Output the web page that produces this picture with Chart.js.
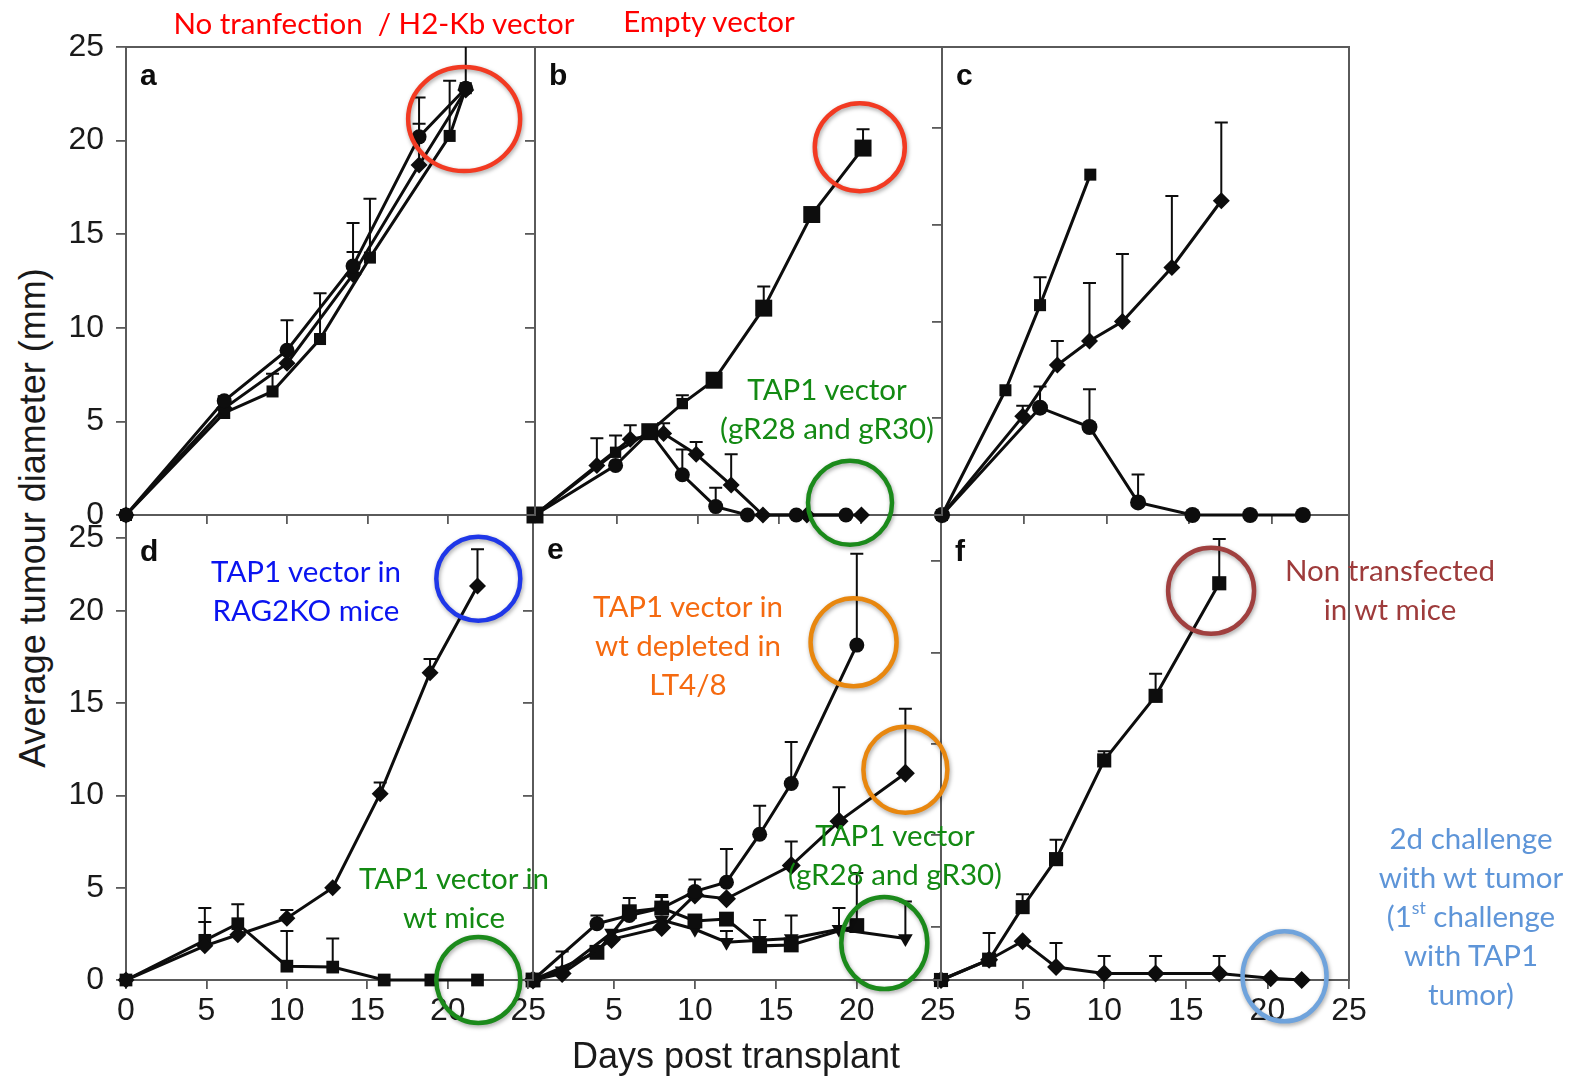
<!DOCTYPE html>
<html>
<head>
<meta charset="utf-8">
<script src="https://cdn.jsdelivr.net/npm/chart.js@4.4.0/dist/chart.umd.min.js"></script>
<style>
  body { margin: 0; background: #fff; width: 1582px; height: 1079px; overflow: hidden; position: relative; }
  canvas { position: absolute; }
  .note { position: absolute; font-family: Lato, "Noto Sans", sans-serif; font-size: 29.5px; line-height: 39px;
          text-align: center; white-space: pre; transform: translateX(-50%); z-index: 20; }
  .note sup { font-size: 0.6em; line-height: 0; vertical-align: 0.75em; }
  .title { position: absolute; font-family: "Liberation Sans", Arial, sans-serif; font-size: 36px; color: #1a1a1a;
           white-space: nowrap; z-index: 20; }
</style>
</head>
<body>

<div class="title" style="left:33px; top:518px; transform: translate(-50%,-50%) rotate(-90deg);">Average tumour diameter (mm)</div>
<div class="title" style="left:736px; top:1056px; transform: translate(-50%,-50%);">Days post transplant</div>

<div class="note" style="left:374px; top:3px; color:#ff0000;">No tranfection  / H2-Kb vector</div>
<div class="note" style="left:709px; top:1px; color:#ff0000;">Empty vector</div>
<div class="note" style="left:827px; top:369px; color:#138a13;">TAP1 vector
(gR28 and gR30)</div>
<div class="note" style="left:306px; top:551px; color:#0a14f0;">TAP1 vector in
RAG2KO mice</div>
<div class="note" style="left:454px; top:858px; color:#138a13;">TAP1 vector in
wt mice</div>
<div class="note" style="left:688px; top:586px; color:#f56a10;">TAP1 vector in
wt depleted in
LT4/8</div>
<div class="note" style="left:895px; top:815px; color:#138a13;">TAP1 vector
(gR28 and gR30)</div>
<div class="note" style="left:1390px; top:550px; color:#9e3b3b;">Non transfected
in wt mice</div>
<div class="note" style="left:1471px; top:818px; color:#5e95d8;">2d challenge
with wt tumor
(1<sup>st</sup> challenge
with TAP1
tumor)</div>

<script>
// ---- panel a: no transfection / H2-Kb vector ----
const aCircleDays = [0, 6.1, 10.0, 14.1, 18.2, 21.1];
const aCircle     = [0, 6.1, 8.8, 13.3, 20.2, 22.8];
const aCircleErr  = [null, 6.35, 10.4, 15.6, 22.3, 26];
const aDiamondDays = [0, 6.1, 10.0, 14.1, 18.2, 21.1];
const aDiamond     = [0, 5.7, 8.1, 12.85, 18.7, 22.7];
const aDiamondErr  = [null, null, null, 14.05, 20.9, null];
const aSquareDays = [0, 6.1, 9.1, 12.05, 15.15, 20.1, 21.1];
const aSquare     = [0, 5.45, 6.6, 9.4, 13.75, 20.25, 22.8];
const aSquareErr  = [null, null, 7.55, 11.85, 16.9, 23.2, null];

// ---- panel b: empty vector vs TAP1 vector ----
const bSquareDays = [0, 4.95, 7.05, 9.05, 11.0, 14.05, 17.0, 20.15];
const bSquare     = [0, 3.35, 4.45, 5.95, 7.2, 11.05, 16.05, 19.6];
const bSquareErr  = [null, 4.25, null, 6.4, null, 12.2, null, 20.6];
const bCircleDays = [0, 4.95, 7.05, 9.05, 11.1, 13.05, 16.05, 19.1];
const bCircle     = [0, 2.65, 4.45, 2.15, 0.45, 0, 0, 0];
const bCircleErr  = [null, null, null, 3.5, 1.45, null, null, null];
const bDiamondDays = [0, 3.8, 5.85, 7.9, 9.9, 12.05, 14.0, 16.7, 20.05];
const bDiamond     = [0, 2.65, 4.05, 4.35, 3.25, 1.6, 0, 0, 0];
const bDiamondErr  = [null, 4.1, 4.8, 4.9, 3.9, 3.25, null, null, null];

// ---- panel c ----
const cSquareDays = [0, 3.85, 5.95, 9.0];
const cSquare     = [0, 6.45, 10.85, 17.6];
const cSquareErr  = [null, null, 12.3, null];
const cDiamondDays = [0, 4.9, 7.0, 8.95, 10.95, 13.95, 16.95];
const cDiamond     = [0, 5.1, 7.75, 9.0, 10.0, 12.8, 16.25];
const cDiamondErr  = [null, 5.65, 9.0, 12.0, 13.5, 16.5, 20.3];
const cCircleDays = [0, 5.95, 8.95, 11.9, 15.2, 18.7, 21.9];
const cCircle     = [0, 5.55, 4.55, 0.65, 0, 0, 0];
const cCircleErr  = [null, 6.65, 6.5, 2.1, null, null, null];

// ---- panel d: RAG2KO vs wt mice ----
const dDiamondDays = [0, 4.9, 6.95, 10.0, 12.85, 15.8, 18.9, 21.85];
const dDiamond     = [0, 1.85, 2.45, 3.35, 5.0, 10.1, 16.65, 21.35];
const dDiamondErr  = [null, 3.9, null, 3.8, null, 10.7, 17.4, 23.35];
const dSquareDays = [0, 4.9, 6.95, 10.0, 12.85, 16.05, 18.95, 21.85];
const dSquare     = [0, 2.15, 3.05, 0.75, 0.7, 0, 0, 0];
const dSquareErr  = [null, 3.15, 4.1, 2.65, 2.25, null, null, null];

// ---- panel e: depleted wt vs TAP1 vectors ----
const eCircleDays = [0, 3.95, 5.95, 7.95, 10.0, 11.95, 14.0, 15.95, 20.0];
const eCircle     = [0, 3.05, 3.5, 3.9, 4.8, 5.3, 7.9, 10.65, 18.15];
const eCircleErr  = [null, 3.5, null, 4.6, 5.45, 7.1, 9.45, 12.9, 23.1];
const eDiamondDays = [0, 1.8, 4.85, 7.95, 10.0, 11.95, 15.95, 18.9, 23.0];
const eDiamond     = [0, 0.35, 2.2, 2.85, 4.6, 4.4, 6.2, 8.6, 11.2];
const eDiamondErr  = [null, null, null, null, null, null, 7.5, 10.45, 14.7];
const eSquareDays = [0, 3.95, 5.95, 7.95, 10.0, 11.95, 14.0, 15.95, 20.0];
const eSquare     = [0, 1.5, 3.7, 3.9, 3.2, 3.3, 1.85, 1.9, 2.95];
const eSquareErr  = [null, null, 4.45, 4.5, null, null, 3.25, 3.5, 5.8];
const eTriDays = [0, 1.8, 4.85, 7.95, 10.0, 11.95, 14.0, 15.95, 18.9, 23.0];
const eTri     = [0, 0.5, 2.55, 3.25, 2.75, 2.05, 2.15, 2.25, 2.75, 2.25];
const eTriErr  = [null, 1.55, null, null, null, 2.65, null, null, 3.9, 4.25];

// ---- panel f: non transfected vs second challenge ----
const fSquareDays = [0, 2.95, 5.0, 7.05, 10.0, 13.15, 17.05];
const fSquare     = [0, 1.1, 3.95, 6.55, 11.9, 15.4, 21.5];
const fSquareErr  = [null, 2.55, 4.65, 7.6, 12.4, 16.6, 23.9];
const fDiamondDays = [0, 2.95, 5.0, 7.05, 10.0, 13.15, 17.05, 20.2, 22.1];
const fDiamond     = [0, 1.1, 2.1, 0.7, 0.35, 0.35, 0.35, 0.1, 0.0];
const fDiamondErr  = [null, null, null, 2.0, 1.3, 1.3, 1.3, null, null];

// ---- tick values / labels ----
const yTicksTop = [0, 5, 10, 15, 20, 25];
const yTickLabelsTop = ['0', '5', '10', '15', '20', '25'];
const yTicksD = [0, 5, 10, 15, 20, 23.95];
const yTickLabelsD = ['0', '5', '10', '15', '20', '25'];
const yTicksF = [2.9, 7.85, 12.8, 17.75, 22.7];
const xTicksTop = [5, 10, 15, 20];
const xTicksD = [0, 5, 10, 15, 20, 25];
const xTicksEF = [5, 10, 15, 20, 25];

const M = 70;            // room around each plot area inside its canvas
const INK = '#0d0d0d';
const AXIS = '#5a5a5a';
const RED = '#f23a22', GREEN = '#1b8a1b', BLUE = '#1f37e8', ORANGE = '#e8870f', BROWN = '#a0403f', SKY = '#6fa3dc';

function series(days, vals, err, style, radius, rotation) {
  return {
    data: days.map((d, i) => ({ x: d, y: vals[i] })),
    errTop: err,
    borderColor: INK, borderWidth: 3, backgroundColor: INK,
    pointBackgroundColor: INK, pointBorderWidth: 0,
    pointStyle: style, pointRadius: radius, pointRotation: rotation || 0,
    tension: 0, clip: false
  };
}

// frame, error bars, circled groups and the panel letter
const panelDecor = {
  id: 'panelDecor',
  beforeDatasetsDraw(chart, args, opts) {
    const { ctx, chartArea: a, scales: { x, y } } = chart;
    ctx.save();
    ctx.strokeStyle = AXIS; ctx.lineWidth = 2;
    ctx.strokeRect(a.left, a.top, a.width, a.height);
    // upward error bars
    ctx.beginPath(); ctx.rect(a.left - 10, a.top, a.width + 20, a.height + 10); ctx.clip();
    ctx.strokeStyle = INK; ctx.lineWidth = 2;
    chart.data.datasets.forEach(ds => {
      (ds.errTop || []).forEach((e, i) => {
        if (e == null) return;
        const px = x.getPixelForValue(ds.data[i].x);
        const y0 = y.getPixelForValue(ds.data[i].y);
        const y1 = y.getPixelForValue(e);
        ctx.beginPath();
        ctx.moveTo(px, y0); ctx.lineTo(px, y1);
        ctx.moveTo(px - 6.5, y1); ctx.lineTo(px + 6.5, y1);
        ctx.stroke();
      });
    });
    ctx.restore();
  },
  afterDatasetsDraw(chart, args, opts) {
    const { ctx, chartArea: a, scales: { x, y } } = chart;
    ctx.save();
    ctx.fillStyle = INK;
    ctx.font = 'bold 30px "Liberation Sans", Arial, sans-serif';
    ctx.textBaseline = 'alphabetic';
    ctx.fillText(opts.letter, a.left + 14, a.top + opts.letterDrop);
    (opts.rings || []).forEach(r => {
      ctx.save();
      ctx.shadowColor = 'rgba(0,0,0,0.35)'; ctx.shadowBlur = 4; ctx.shadowOffsetX = 1; ctx.shadowOffsetY = 2;
      ctx.strokeStyle = r.color; ctx.lineWidth = 4.5;
      ctx.beginPath();
      ctx.ellipse(x.getPixelForValue(r.x), y.getPixelForValue(r.y), r.rx, r.ry, 0, 0, Math.PI * 2);
      ctx.stroke();
      ctx.restore();
    });
    ctx.restore();
  }
};

const panels = [
  { letter: 'a', rect: [126, 47, 535, 515], xMax: 25.4, yMax: 25, z: 6, drop: 38,
    xTicks: xTicksTop, xLabels: false, yTicks: yTicksTop, yLabels: yTickLabelsTop,
    sets: [series(aCircleDays, aCircle, aCircleErr, 'circle', 7.5),
           series(aDiamondDays, aDiamond, aDiamondErr, 'rectRot', 8.5),
           series(aSquareDays, aSquare, aSquareErr, 'rect', 8.5)],
    rings: [{ x: 21.0, y: 21.15, rx: 56, ry: 52, color: RED }] },
  { letter: 'b', rect: [535, 47, 942, 515], xMax: 25.0, yMax: 25, z: 5, drop: 38,
    xTicks: xTicksTop, xLabels: false, yTicks: yTicksTop, yLabels: false,
    sets: [Object.assign(series(bSquareDays, bSquare, bSquareErr, 'rect', 12), { pointRadius: [12, 8, 12, 8, 12, 12, 12, 12] }),
           series(bCircleDays, bCircle, bCircleErr, 'circle', 7.5),
           series(bDiamondDays, bDiamond, bDiamondErr, 'rectRot', 8.5)],
    rings: [{ x: 19.95, y: 19.65, rx: 45, ry: 44, color: RED },
            { x: 19.35, y: 0.65, rx: 42, ry: 42, color: GREEN }] },
  { letter: 'c', rect: [942, 47, 1349, 515], xMax: 24.7, yMax: 24.2, z: 4, drop: 38,
    xTicks: xTicksTop, xLabels: false, yTicks: [5, 10, 15, 20], yLabels: false,
    sets: [series(cSquareDays, cSquare, cSquareErr, 'rect', 8.5),
           series(cDiamondDays, cDiamond, cDiamondErr, 'rectRot', 8.5),
           series(cCircleDays, cCircle, cCircleErr, 'circle', 8)],
    rings: [] },
  { letter: 'd', rect: [126, 515, 533, 980], xMax: 25.3, yMax: 25.2, z: 3, drop: 46,
    xTicks: xTicksD, xLabels: true, yTicks: yTicksD, yLabels: yTickLabelsD,
    sets: [series(dDiamondDays, dDiamond, dDiamondErr, 'rectRot', 8.5),
           series(dSquareDays, dSquare, dSquareErr, 'rect', 9)],
    rings: [{ x: 21.9, y: 21.75, rx: 42, ry: 42, color: BLUE },
            { x: 21.9, y: 0, rx: 42, ry: 43, color: GREEN }] },
  { letter: 'e', rect: [533, 515, 941, 980], xMax: 25.2, yMax: 25.2, z: 2, drop: 44,
    xTicks: xTicksEF, xLabels: true, yTicks: [5, 10, 15, 20], yLabels: false,
    sets: [series(eCircleDays, eCircle, eCircleErr, 'circle', 7.5),
           series(eDiamondDays, eDiamond, eDiamondErr, 'rectRot', 9.5),
           series(eSquareDays, eSquare, eSquareErr, 'rect', 10.5),
           series(eTriDays, eTri, eTriErr, 'triangle', 8.5, 180)],
    rings: [{ x: 19.8, y: 18.3, rx: 43, ry: 44, color: ORANGE },
            { x: 23.0, y: 11.4, rx: 42, ry: 43, color: ORANGE },
            { x: 21.7, y: 2.0, rx: 43, ry: 46, color: GREEN }] },
  { letter: 'f', rect: [941, 515, 1349, 980], xMax: 25.0, yMax: 25.2, z: 1, drop: 46,
    xTicks: xTicksEF, xLabels: true, yTicks: yTicksF, yLabels: false,
    sets: [series(fSquareDays, fSquare, fSquareErr, 'rect', 10),
           series(fDiamondDays, fDiamond, fDiamondErr, 'rectRot', 9)],
    rings: [{ x: 16.55, y: 21.1, rx: 43, ry: 43, color: BROWN },
            { x: 21.05, y: 0.2, rx: 42, ry: 45, color: SKY }] }
];

const tickFont = { family: '"Liberation Sans", Arial, sans-serif', size: 32 };

panels.forEach(p => {
  const [l, t, r, b] = p.rect;
  const w = r - l + 2 * M, h = b - t + 2 * M;
  const canvas = document.createElement('canvas');
  canvas.width = w; canvas.height = h;
  canvas.style.left = (l - M) + 'px';
  canvas.style.top = (t - M) + 'px';
  canvas.style.width = w + 'px';
  canvas.style.height = h + 'px';
  canvas.style.zIndex = p.z;
  document.body.appendChild(canvas);

  new Chart(canvas.getContext('2d'), {
    type: 'line',
    data: { datasets: p.sets },
    options: {
      responsive: false,
      animation: false,
      devicePixelRatio: 1,
      layout: { padding: { top: M, right: M, left: 0, bottom: 0 } },
      plugins: {
        legend: { display: false },
        tooltip: { enabled: false },
        panelDecor: { letter: p.letter, letterDrop: p.drop, rings: p.rings }
      },
      scales: {
        x: {
          type: 'linear', min: 0, max: p.xMax,
          afterBuildTicks: s => { s.ticks = p.xTicks.map(v => ({ value: v })); },
          afterFit: s => { s.height = M; s.paddingLeft = 0; s.paddingRight = 0; },
          grid: { drawOnChartArea: false, tickLength: 9, color: AXIS, lineWidth: 1.8 },
          border: { display: false },
          ticks: { display: p.xLabels, font: tickFont, color: '#1a1a1a', padding: 3,
                   maxRotation: 0, autoSkip: false, callback: v => String(v) }
        },
        y: {
          type: 'linear', min: 0, max: p.yMax,
          afterBuildTicks: s => { s.ticks = p.yTicks.map(v => ({ value: v })); },
          afterFit: s => { s.width = M; s.paddingTop = 0; s.paddingBottom = 0; },
          grid: { drawOnChartArea: false, tickLength: 10, color: AXIS, lineWidth: 1.8 },
          border: { display: false },
          ticks: { display: !!p.yLabels, font: tickFont, color: '#1a1a1a', padding: 12, autoSkip: false,
                   callback: (v, i) => (Array.isArray(p.yLabels) ? p.yLabels[i] : String(v)) }
        }
      }
    },
    plugins: [panelDecor]
  });
});
</script>
</body>
</html>
